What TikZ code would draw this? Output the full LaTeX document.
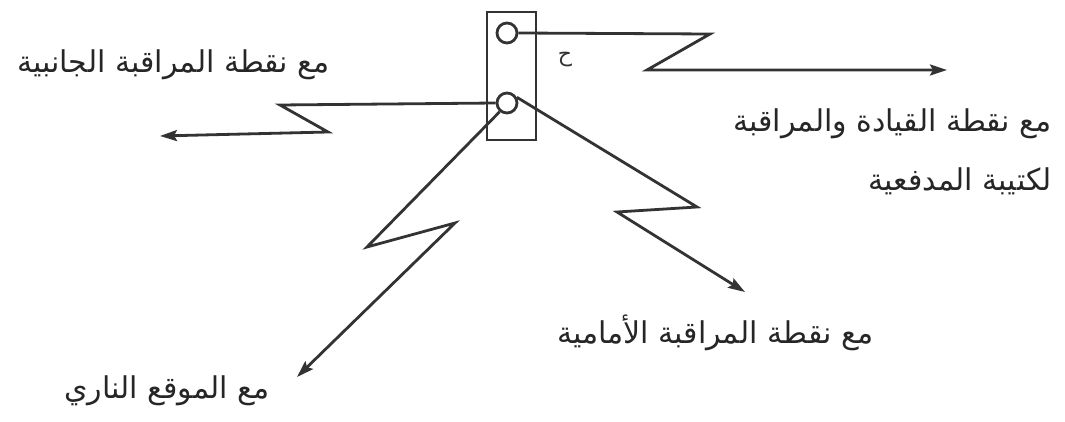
\documentclass[tikz,border=0pt]{standalone}
\usepackage{fontspec}
\newfontfamily\arabicfont[Script=Arabic]{DejaVu Sans}
\TeXXeTstate=1
\usetikzlibrary{arrows.meta}
\begin{document}
\begin{tikzpicture}[x=1pt,y=1pt,
  ink/.style={draw=black!80, line width=2.8pt, line join=miter},
  link/.style={ink, -{Stealth[length=17pt,width=11pt,inset=3pt]}},
  lbl/.style={inner sep=0pt, font=\arabicfont\fontsize{30}{34}\selectfont, text=black!85},
  port/.style={circle, draw=black!80, line width=2.8pt, minimum size=20pt, inner sep=0pt}
]
\useasboundingbox (0,0) rectangle (1065,421);
\fill[white] (0,0) rectangle (1065,421);
% unit box
\node[draw=black!80, line width=2.8pt, minimum width=49pt, minimum height=128pt, inner sep=0pt] (box) at (511.5,345) {};
\node[port] (c1) at (507,388) {};
\node[port] (c2) at (507,318) {};
\node[inner sep=0pt, font=\arabicfont\fontsize{22}{22}\selectfont, text=black!80] (mark) at (565,361) {\beginR ح\endR};
% zig-zag corner points
\coordinate (a1) at (710,387);
\coordinate (a2) at (647,351);
\coordinate (a3) at (947,351);
\coordinate (b1) at (280,316);
\coordinate (b2) at (328,289);
\coordinate (b3) at (160,285);
\coordinate (d1) at (367,174);
\coordinate (d2) at (455,198);
\coordinate (d3) at (297,44);
\coordinate (e1) at (697,214);
\coordinate (e2) at (617,209);
\coordinate (e3) at (745,129);
% links
\draw[link] (c1.east) -- (a1) -- (a2) -- (a3);
\draw[link] (c2.west) -- (b1) -- (b2) -- (b3);
\draw[link] (c2.230) -- (d1) -- (d2) -- (d3);
\draw[link] (c2.30) -- (e1) -- (e2) -- (e3);
% labels
\node[lbl, anchor=base east] (t1) at (330,348) {\beginR مع نقطة المراقبة الجانبية\endR};
\node[lbl, anchor=base east] (t2) at (1052,289) {\beginR مع نقطة القيادة والمراقبة\endR};
\node[lbl, anchor=base east] (t3) at (1052,231) {\beginR لكتيبة المدفعية\endR};
\node[lbl, anchor=base west] (t4) at (557,78) {\beginR مع نقطة المراقبة الأمامية\endR};
\node[lbl, anchor=base east] (t5) at (270,23) {\beginR مع الموقع الناري\endR};
\end{tikzpicture}
\end{document}
